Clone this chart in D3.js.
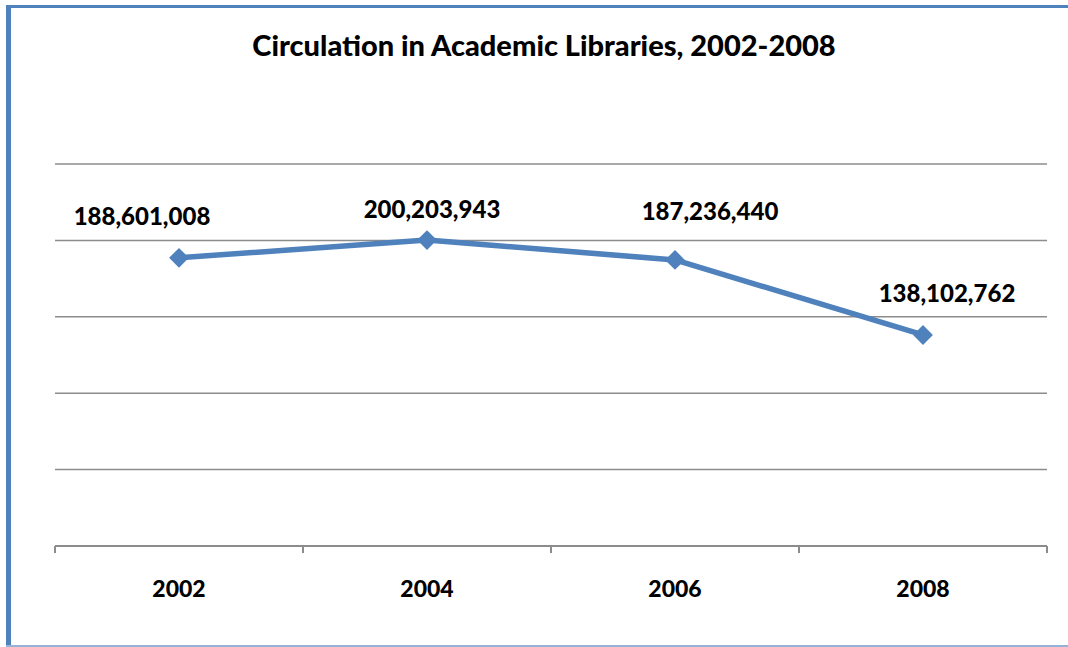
<!DOCTYPE html>
<meta charset="utf-8">
<head>
<style>
body { margin: 0; background: #fff; }
text { font-family: Lato, "Open Sans", sans-serif; font-weight: 900; fill: #000; }
.grid line { stroke: #8c8c8c; stroke-width: 1.5; }
.axis path, .axis line { stroke: #8c8c8c; stroke-width: 2; fill: none; }
</style>
</head>
<body>
<div id="chart"></div>
<script src="https://d3js.org/d3.v7.min.js"></script>
<script>
// data
var years = ["2002", "2004", "2006", "2008"];
var circulation = [188601008, 200203943, 187236440, 138102762];
var gridValues = [0, 50000000, 100000000, 150000000, 200000000, 250000000];

// label nudges (Excel had them hand placed)
var labelDx = [-37, 5, 35, 24];
var labelDy = [-33, -22, -40, -33];

var W = 1068, H = 647;
var margin = {top: 164, right: 21, bottom: 101, left: 55},
    width = W - margin.left - margin.right,
    height = H - margin.top - margin.bottom;

var svg = d3.select("#chart").append("svg")
    .attr("width", W)
    .attr("height", H);

// frame
svg.append("rect").attr("x", 6).attr("y", 5).attr("width", 1070).attr("height", 3).attr("fill", "#4f81bd");
svg.append("rect").attr("x", 6).attr("y", 5).attr("width", 5).attr("height", 642).attr("fill", "#4f81bd");
svg.append("rect").attr("x", 6).attr("y", 645).attr("width", 1062).attr("height", 2).attr("fill", "#95b3d7");

svg.append("text")
    .attr("x", 544)
    .attr("y", 56)
    .attr("text-anchor", "middle")
    .style("font-size", "29px")
    .text("Circulation in Academic Libraries, 2002-2008");

var g = svg.append("g")
    .attr("transform", "translate(" + margin.left + "," + margin.top + ")");

var x = d3.scaleBand()
    .domain(years)
    .range([0, width]);

var y = d3.scaleLinear()
    .domain([0, 250000000])
    .range([height, 0]);

g.append("g")
    .attr("class", "grid")
  .selectAll("line")
    .data(gridValues.slice(1))
    .enter().append("line")
    .attr("x1", 0)
    .attr("x2", width)
    .attr("y1", function(d) { return y(d); })
    .attr("y2", function(d) { return y(d); });

// x axis with ticks at band edges
var xAxis = g.append("g")
    .attr("class", "axis")
    .attr("transform", "translate(0," + height + ")");
xAxis.append("line").attr("x1", 0).attr("x2", width);
xAxis.selectAll(".tk")
    .data(years.concat(["end"]))
    .enter().append("line")
    .attr("class", "tk")
    .attr("x1", function(d, i) { return i * x.step(); })
    .attr("x2", function(d, i) { return i * x.step(); })
    .attr("y1", 0)
    .attr("y2", 7);
xAxis.selectAll("text")
    .data(years)
    .enter().append("text")
    .attr("x", function(d) { return x(d) + x.bandwidth() / 2; })
    .attr("y", 51)
    .attr("text-anchor", "middle")
    .style("font-size", "23px")
    .text(function(d) { return d; });

var pts = years.map(function(d, i) { return {year: d, value: circulation[i], i: i}; });

var line = d3.line()
    .x(function(d) { return x(d.year) + x.bandwidth() / 2; })
    .y(function(d) { return y(d.value); });

g.append("path")
    .datum(pts)
    .attr("d", line)
    .attr("fill", "none")
    .attr("stroke", "#4f81bd")
    .attr("stroke-width", 5.5)
    .attr("stroke-linejoin", "round");

g.selectAll(".marker")
    .data(pts)
    .enter().append("path")
    .attr("class", "marker")
    .attr("d", d3.symbol().type(d3.symbolDiamond2).size(250))
    .attr("fill", "#4f81bd")
    .attr("transform", function(d) {
        return "translate(" + (x(d.year) + x.bandwidth() / 2) + "," + y(d.value) + ")";
    });

g.selectAll(".lbl")
    .data(pts)
    .enter().append("text")
    .attr("class", "lbl")
    .attr("x", function(d) { return x(d.year) + x.bandwidth() / 2 + labelDx[d.i]; })
    .attr("y", function(d) { return y(d.value) + labelDy[d.i]; })
    .attr("text-anchor", "middle")
    .style("font-size", "24px")
    .text(function(d) { return d3.format(",")(d.value); });
</script>
</body>
</html>
